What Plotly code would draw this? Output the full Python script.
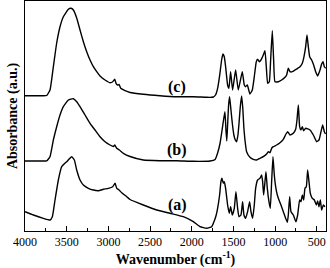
import plotly.graph_objects as go

# Curve (c)
wn_c = [4000, 3900, 3800, 3740, 3700, 3660, 3620, 3580, 3540, 3480, 3448, 3420, 3380, 3340, 3300,
        3260, 3220, 3180, 3140, 3100, 3040, 2980, 2948, 2924, 2908, 2888, 2872, 2852, 2800, 2740,
        2581, 2381, 2181, 1981, 1821, 1761, 1740, 1715, 1690, 1662, 1642, 1626, 1610, 1594, 1570,
        1554, 1534, 1510, 1474, 1442, 1394, 1370, 1354, 1334, 1302, 1274, 1250, 1226, 1210, 1190,
        1170, 1142, 1122, 1106, 1090, 1070, 1054, 1034, 1018, 1002, 962, 922, 882, 862, 842, 822,
        794, 762, 730, 702, 674, 654, 634, 618, 602, 586, 562, 538, 514, 490, 462, 442, 426, 410, 394]
abs_c = [135.3, 135.3, 135.3, 135.5, 141, 164.3, 188, 204.3, 214.3, 221.7, 222.7, 221, 213, 201, 189.3,
         179.3, 171, 164.3, 159.3, 155, 151, 148.3, 149.3, 151.7, 147.7, 146, 146.5, 142.7, 140.3, 138.5,
         136.7, 135.3, 134.3, 134.3, 133.7, 133.7, 134, 136, 142.7, 157.7, 171, 177, 174.3, 164.3, 146,
         142.7, 159.3, 141, 161, 141, 159.3, 146, 144.3, 146, 137, 141, 154.3, 169.3, 171.7, 169.3,
         171, 176, 180.3, 164.3, 147.7, 149.3, 171, 200.3, 171, 149.3, 149.3, 151, 153.7, 156, 162.7, 159.3,
         159.3, 161, 162.7, 164.3, 167.7, 174.3, 184.3, 196, 184.3, 174.3, 171, 166, 159.3, 155, 161, 167, 169.3, 164.3, 162.7]

# Curve (b)
wn_b = [4000, 3900, 3800, 3740, 3700, 3660, 3620, 3580, 3540, 3480, 3420, 3380, 3340, 3280, 3220,
        3160, 3100, 3040, 2980, 2940, 2924, 2900, 2868, 2820, 2740, 2581, 2381, 2181, 1981, 1781,
        1720, 1690, 1660, 1640, 1622, 1602, 1590, 1580, 1570, 1558, 1546, 1530, 1514, 1495, 1478,
        1462, 1446, 1432, 1418, 1402, 1388, 1375, 1362, 1342, 1302, 1262, 1222, 1182, 1142, 1102,
        1082, 1062, 1040, 1022, 982, 942, 902, 870, 850, 822, 782, 754, 738, 722, 706, 690, 674,
        658, 634, 582, 542, 502, 474, 450, 430, 410, 395]
abs_b = [70, 70, 70, 70.2, 74.3, 91, 104.3, 116, 124.3, 131, 132.3, 129.3, 124.3, 116, 107.7,
         101, 94.3, 89.3, 86, 84.5, 86, 82.7, 81, 77.7, 74.5, 71, 70.3, 70.3, 69.7, 70,
         71.5, 78, 88, 99, 109.3, 119.3, 101, 90, 106, 126, 134.3, 121, 108, 96, 91,
         89.3, 96, 109, 124.3, 135, 123, 103, 91, 79.3, 73.7, 71.7, 71, 72.7, 74.3, 77,
         79.3, 78.3, 83, 84.3, 86, 88.3, 91.7, 97, 99.3, 96, 97.7, 101.7, 111, 126, 104.3, 101, 104.3,
         100.3, 102.7, 101, 96, 89.3, 91, 99.3, 106, 99.3, 97]

# Curve (a)
wn_a = [4000, 3900, 3780, 3700, 3672, 3640, 3600, 3560, 3500, 3440, 3408, 3380, 3340, 3300, 3240,
        3180, 3120, 3060, 3000, 2948, 2920, 2900, 2872, 2840, 2780, 2740, 2581, 2421, 2261, 2101,
        1981, 1901, 1821, 1761, 1735, 1710, 1690, 1666, 1650, 1638, 1622, 1610, 1594, 1570, 1550,
        1534, 1514, 1490, 1470, 1450, 1434, 1410, 1390, 1374, 1354, 1330, 1306, 1290, 1270, 1250,
        1234, 1210, 1182, 1162, 1150, 1138, 1122, 1110, 1094, 1074, 1058, 1042, 1026, 1010, 994,
        974, 954, 930, 902, 874, 854, 842, 826, 810, 782, 750, 730, 706, 690, 674, 658, 642, 626,
        610, 594, 578, 554, 530, 506, 490, 474, 458, 442, 422, 402]
abs_a = [19.3, 16, 12.7, 11, 14.3, 31, 51, 64.3, 69.3, 74.3, 71, 61, 51, 46, 42.7,
         41, 40.3, 41.7, 42.7, 44.3, 47.7, 42.7, 41, 38.3, 34.3, 31.5, 26, 21, 17.7, 14.3,
         9.3, 4.3, 2.7, 4.3, 9, 15, 22.7, 36, 49.3, 52.7, 47.7, 49.3, 42.7, 26, 17.7,
         24.3, 16, 22.7, 39.3, 22.7, 14.3, 16, 29.3, 16, 12.7, 19.3, 29.3, 19.3, 12.7, 26,
         42.7, 51, 52.7, 56, 49.3, 36, 49.3, 59.3, 42.7, 29.3, 22.7, 49.3, 74.3, 56, 44.3,
         36, 31, 26, 19.3, 12.7, 8.7, 16, 34.3, 19.3, 16, 9.3, 16, 31, 29.3, 36, 31, 42.7, 44.3,
         61, 49.3, 37.7, 32.7, 31, 26, 30, 24.3, 31, 21, 26, 24.3]

labels = ["(a)", "(b)", "(c)"]
label_x = [2175, 2175, 2175]
label_y = [26, 81, 144]

fig = go.Figure()
for wn, ab in [(wn_a, abs_a), (wn_b, abs_b), (wn_c, abs_c)]:
    fig.add_trace(go.Scatter(x=wn, y=ab, mode="lines",
                             line=dict(color="black", width=1.4, shape="spline", smoothing=0.4),
                             showlegend=False, hoverinfo="skip"))

for t, lx, ly in zip(labels, label_x, label_y):
    fig.add_annotation(x=lx, y=ly, text="<b>" + t + "</b>", showarrow=False,
                       font=dict(family="Liberation Serif", size=16, color="black"))

fig.update_layout(
    width=330, height=268,
    margin=dict(l=25, r=4, t=1, b=37),
    paper_bgcolor="white", plot_bgcolor="white",
    font=dict(family="Liberation Serif", color="black", size=12),
)
fig.update_xaxes(range=[4000, 390], showgrid=False, zeroline=False,
                 showline=True, linecolor="black", linewidth=1, mirror=True,
                 ticks="inside", ticklen=5, tickwidth=1, tickcolor="black",
                 tickmode="linear", tick0=500, dtick=500,
                 minor=dict(ticks="inside", ticklen=3, tickcolor="black", dtick=250, tick0=250),
                 tickfont=dict(size=12, family="Liberation Serif"),
                 title=dict(text="<b>Wavenumber (cm<sup>-1</sup>)</b>", standoff=2,
                            font=dict(size=14, family="Liberation Serif")))
fig.update_yaxes(range=[0, 230], showgrid=False, zeroline=False,
                 showline=True, linecolor="black", linewidth=1, mirror=True,
                 ticks="", showticklabels=False,
                 title=dict(text="<b>Absorbance (a.u.)</b>", standoff=3,
                            font=dict(size=14, family="Liberation Serif")))

fig.write_html("out.html", config={"displayModeBar": False},
               post_script="document.body.style.margin='0';document.body.style.overflow='hidden';")
